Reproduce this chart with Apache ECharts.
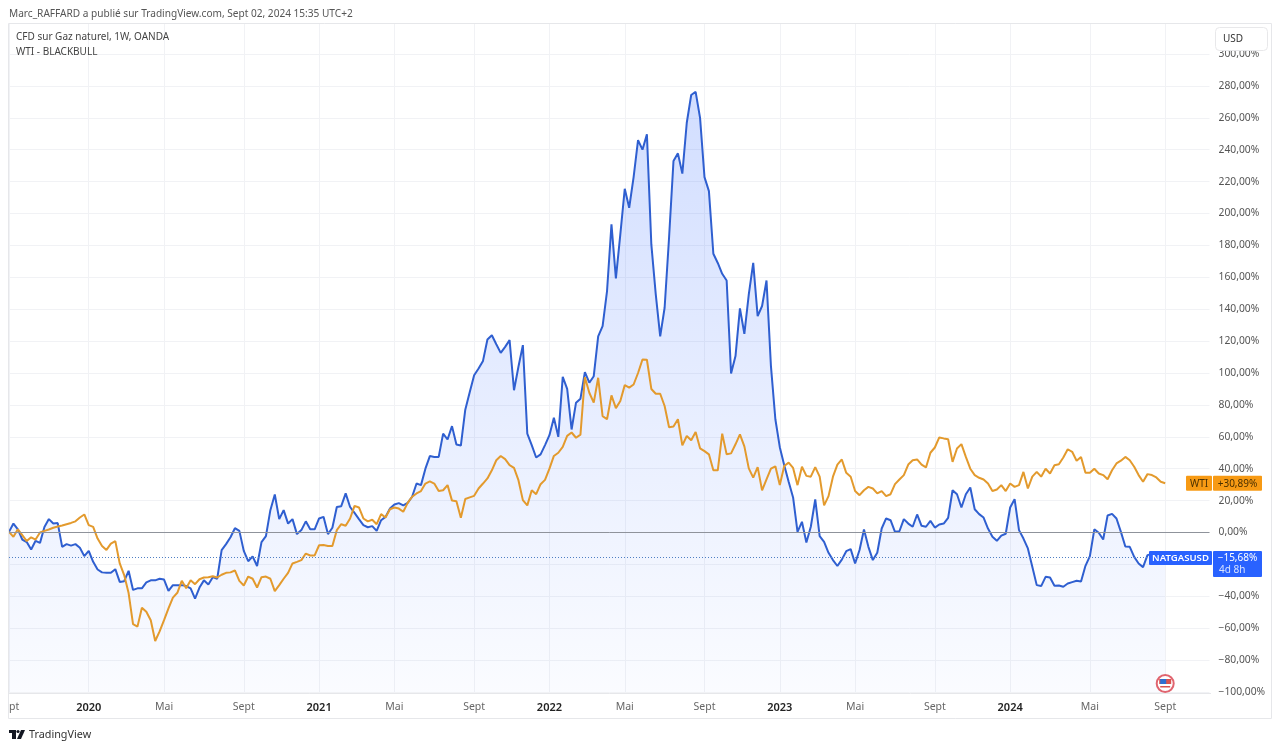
<!DOCTYPE html>
<html>
<head>
<meta charset="utf-8">
<style>html,body{margin:0;padding:0;background:#fff}#c{width:1280px;height:750px}</style>
<script src="https://cdn.jsdelivr.net/npm/echarts@6/dist/echarts.min.js"></script>
</head>
<body>
<div id="c"></div>
<script>
var natgas = [
0.4,5.6,2,-4.4,-6,-10.7,-5.2,-6.5,3.5,8.4,
5.6,5.9,-9,-7.3,-8.2,-7.3,-9.6,-14.8,-11.5,-18.4,
-23.2,-25,-25.3,-25.3,-23,-31,-30.5,-24,-36,-35,
-35,-31.3,-30,-30,-29,-29.5,-36.6,-33,-33,-33,
-33.6,-35,-41.4,-34.5,-30,-32.6,-28,-29,-11,-7.3,
-3,2.7,1,-11.5,-18,-15,-21,-6,-2.3,14,
23.8,8.4,14,5.6,8.4,-1,1.5,7,2,2,
8.8,9.8,-1,3,16,16.5,24.5,16,12.3,8.4,
4.6,3.3,4,1,7.7,9.8,15,17.6,18.4,17,
18.6,22.4,30.7,29.7,40,47.9,47.4,47.4,62,58.3,
66.7,55.2,54.5,77,88,98.6,102.8,107.6,121,123.7,
118,112.6,116.4,120.6,89.2,103.9,117.5,62,54.8,47,
49,54.8,61,72,60,97.6,90,64.6,81.4,83.9,
100.6,93.9,98,123,129.4,151.4,193.2,159.3,186.9,215.5,
203.6,222.8,246,240,249.6,180.6,149.3,123,140.9,184.8,
232.9,237.7,225,256.9,274.3,276.3,260,222.8,214,174.8,
169,162.2,158,99.7,110.6,140.5,124.6,149.3,169,135.7,
142,158,104.3,71,53.5,42.2,31.8,22,0.4,6.7,
-6.3,3.6,20.7,-2.3,-5.9,-12.7,-17.3,-21,-17,-11.7,
-10.4,-19.4,-11,1.9,-9,-17.3,-12.7,2.5,8.8,7.7,
0.4,0.8,8.4,5.6,3.6,11.3,4.2,3.6,7.3,3.1,
5,5.6,9.2,26.5,24,15.7,24,28.2,14.6,11.5,
9.4,2.5,-2.7,-5.2,-2,-0.8,15.7,20.9,1.5,-3.8,
-10,-21.5,-33,-33.6,-27.8,-28.2,-33.4,-33.2,-34,-32,
-31.1,-30.3,-30.7,-20.9,-14.8,2,-0.2,-4.4,10.7,11.7,
8.8,0.4,-8.8,-9,-15.3,-19.4,-21.7,-14.2,-13.5,-14.5,
-15.2,-15.68
];
var wti = [
0.4,-2.7,2,-1.7,-5.4,-3,-4.4,0,1,1.9,
3,3.8,4.4,5.2,6,7,9.4,11.3,4.6,3.5,
-3.8,-8.4,-10.9,-7,-5.4,-19.4,-26.7,-38,-57.5,-59,
-47.2,-49.7,-55,-68,-62,-55,-47.6,-40.8,-37.8,-30.3,
-35,-30,-32.4,-29.3,-28.2,-28,-27.4,-28.2,-26.5,-25.3,
-25,-23.8,-30.3,-33.2,-27.6,-29,-34.5,-28,-27.6,-29,
-36.8,-33,-29,-25.3,-19.4,-18.4,-17.3,-13.2,-14.4,-14.4,
-8,-7.9,-8.4,-8.4,1.5,5.2,4.2,8.8,16.7,15.7,
8.8,7,8,5.2,11.5,9.4,14.6,15.7,15,13,
18.6,22.4,24.5,26,30.7,32,30.7,26,26.5,29.7,
20,19.6,9.2,21,22,23,27.6,30.7,33.9,39,
45.3,48,46,42.2,40.5,32.8,20.3,17,26.5,24,
30.3,33,40,48,50,53.7,60.6,62.7,59.4,61.4,
97.4,87.6,81.4,97,73,71,86,78,82.4,92.4,
90.8,92.8,100,108.5,108.3,90,87,87,79.3,66,
66.5,71,54.6,60.5,57.8,63,52.8,51,49,39,
39,62,49,49.6,55.3,61.5,54,40.2,34.4,41,
26.4,33.3,40,41.5,29.8,41.7,43.8,40.5,29.7,41.2,
35.5,35,41,35,17,22.8,35,42.6,45.8,37.4,
35,26,23.4,26.5,28.6,27.6,24.5,26,22.8,24,
30.3,33.2,36,42.6,45.3,45.8,42.6,40.8,50,53.3,
59.6,59,58.5,44.3,52.7,55.4,47.4,40,36,34.3,
33.2,30.7,26,27,29.7,26,30.7,28.6,29.7,38,
27.6,35,38,35,40,37,42.2,42.8,47,52.2,
50.6,45,47.4,37.4,37.4,40,37,36,33.4,39,
43.3,45,47.4,45.3,41.2,36,31.8,36.6,36,34.5,
31.8,30.89
];
var tickWeeks  = [0,18,35,53,70,87,105,122,139,157,174,191,209,226,244,261];
var tickLabels = ['pt','2020','Mai','Sept','2021','Mai','Sept','2022','Mai','Sept','2023','Mai','Sept','2024','Mai','Sept'];
var totalWeeks = 272;
var lastNat = -15.68, lastWti = 30.89;

var FONT = '"Noto Sans", "Open Sans", sans-serif';
var categories = [];
for (var i = 0; i < totalWeeks; i++) categories.push(String(i));
var isTick = function (idx) { return tickWeeks.indexOf(idx) >= 0; };

var chart = echarts.init(document.getElementById('c'), null, {renderer: 'canvas'});
var option = {
  animation: false,
  backgroundColor: '#fff',
  grid: {left: 9, top: 23.7, bottom: 58, width: 1200.5, containLabel: false},
  xAxis: {
    type: 'category', data: categories, boundaryGap: false,
    axisLine: {show: false}, axisTick: {show: false},
    splitLine: {show: true, interval: function (idx) { return isTick(idx); }, lineStyle: {color: '#f1f2f5', width: 1}},
    axisLabel: {
      interval: function (idx) { return isTick(idx); },
      alignMinLabel: 'left',
      margin: 10,
      fontFamily: FONT, fontSize: 10.5, color: '#666',
      formatter: function (v) {
        var t = tickLabels[tickWeeks.indexOf(+v)];
        return /^20/.test(t) ? '{y|' + t + '}' : t;
      },
      rich: {y: {fontFamily: FONT, fontSize: 11, color: '#222', fontWeight: 600}}
    }
  },
  yAxis: {
    type: 'value', position: 'right', min: -100, max: 319, interval: 20,
    axisLine: {show: false}, axisTick: {show: false},
    splitLine: {show: true, showMaxLine: false, lineStyle: {color: '#f1f2f5', width: 1}},
    axisLabel: {
      margin: 9, fontFamily: FONT, fontSize: 10.3, color: '#555',
      formatter: function (v) {
        if (v > 300) return '';
        return (v < 0 ? '\u2212' + Math.abs(v) : v) + ',00%';
      }
    }
  },
  series: [
    {
      name: 'NATGASUSD', type: 'line', data: natgas, showSymbol: false, smooth: false, z: 3,
      lineStyle: {color: '#2f5fd0', width: 2}, itemStyle: {color: '#2f5fd0'},
      areaStyle: {
        origin: 'start',
        color: new echarts.graphic.LinearGradient(0, 0, 0, 1, [
          {offset: 0, color: 'rgba(41,98,255,0.30)'},
          {offset: 1, color: 'rgba(41,98,255,0.03)'}
        ])
      },
      markLine: {
        silent: true, symbol: 'none', label: {show: false}, animation: false,
        data: [
          {yAxis: 0, lineStyle: {color: '#8f939b', width: 1, type: 'solid'}},
          {yAxis: lastNat, lineStyle: {color: '#4f7fc4', width: 1, type: [1, 2]}}
        ]
      }
    },
    {
      name: 'WTI', type: 'line', data: wti, showSymbol: false, smooth: false, z: 4,
      lineStyle: {color: '#e39a2d', width: 2}, itemStyle: {color: '#e39a2d'}
    }
  ]
};
chart.setOption(option);

var yNat = chart.convertToPixel({yAxisIndex: 0}, lastNat);
var yWti = chart.convertToPixel({yAxisIndex: 0}, lastWti);
var xEnd = chart.convertToPixel({xAxisIndex: 0}, 261);
function box(x, y, w, h, fill, z) {
  return {type: 'rect', z: z || 10, shape: {x: x, y: y, width: w, height: h, r: 1}, style: {fill: fill}, silent: true};
}
function txt(x, y, s, color, size, weight, align) {
  return {type: 'text', z: 12, x: x, y: y, silent: true,
    style: {text: s, fill: color, fontFamily: FONT, fontSize: size || 10.5, fontWeight: weight || 400,
            textAlign: align || 'left', textVerticalAlign: 'middle'}};
}
function hline(x1, y1, x2, y2) {
  return {type: 'line', z: 9, silent: true, shape: {x1: x1, y1: y1, x2: x2, y2: y2}, style: {stroke: '#e6e7ea', lineWidth: 1}};
}
var ORANGE = '#f79a14', BLUE = '#2962ff';
chart.setOption({graphic: {elements: [
  hline(8.5, 23.5, 1271.5, 23.5), hline(8.5, 718.5, 1271.5, 718.5),
  hline(8.5, 23.5, 8.5, 718.5), hline(1271.5, 23.5, 1271.5, 718.5),
  hline(8.5, 693.5, 1211, 693.5),
  txt(9, 14, 'Marc_RAFFARD a publi\u00e9 sur TradingView.com, Sept 02, 2024 15:35 UTC+2', '#555', 10.1),
  txt(16, 37, 'CFD sur Gaz naturel, 1W, OANDA', '#444', 10),
  txt(16, 52, 'WTI - BLACKBULL', '#444', 10),
  {type: 'rect', z: 11, silent: true, shape: {x: 1215.5, y: 27.5, width: 52, height: 23, r: 4},
   style: {fill: '#fff', stroke: '#e8e8ea', lineWidth: 1}},
  txt(1223, 39.5, 'USD', '#333', 10),
  box(1186, yWti - 7.5, 26, 15, ORANGE),
  box(1213, yWti - 7.5, 49, 15, ORANGE),
  txt(1199, yWti + 0.5, 'WTI', '#4a3000', 10, 400, 'center'),
  txt(1237.5, yWti + 0.5, '+30,89%', '#4a3000', 10, 400, 'center'),
  box(1149, yNat - 6.5, 63, 14, BLUE),
  box(1213, yNat - 6.5, 49, 26, BLUE),
  txt(1180.5, yNat + 0.5, 'NATGASUSD', '#fff', 9.6, 600, 'center'),
  txt(1237.5, yNat + 0.5, '\u221215,68%', '#fff', 10, 400, 'center'),
  txt(1219, yNat + 12.5, '4d 8h', '#d8e3ff', 10),
  {type: 'circle', z: 11, silent: true, shape: {cx: xEnd, cy: 683.5, r: 8.5}, style: {fill: '#fff', stroke: '#e0646f', lineWidth: 2}},
  {type: 'rect', z: 12, silent: true, shape: {x: xEnd - 6, y: 679, width: 12, height: 5}, style: {fill: '#d9534f'}},
  {type: 'rect', z: 12, silent: true, shape: {x: xEnd - 5, y: 679, width: 6, height: 5}, style: {fill: '#2f6fd0'}},
  {type: 'rect', z: 12, silent: true, shape: {x: xEnd - 5, y: 686, width: 10, height: 1.5}, style: {fill: '#d9534f'}},
  {type: 'polygon', z: 12, silent: true, shape: {points: [[9, 730], [16, 730], [16, 739], [12, 739], [12, 733], [9, 733]]}, style: {fill: '#131722'}},
  {type: 'circle', z: 12, silent: true, shape: {cx: 18, cy: 731.5, r: 1.6}, style: {fill: '#131722'}},
  {type: 'polygon', z: 12, silent: true, shape: {points: [[21, 730], [25, 730], [21, 739], [17, 739]]}, style: {fill: '#131722'}},
  txt(29, 735, 'TradingView', '#333', 10.8)
]}});
</script>
</body>
</html>
